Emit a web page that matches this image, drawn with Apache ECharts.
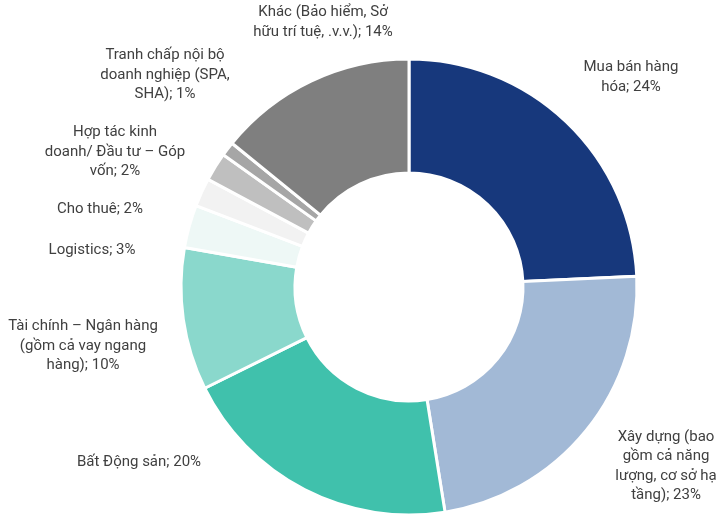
<!DOCTYPE html>
<html>
<head>
<meta charset="utf-8">
<script src="https://cdn.jsdelivr.net/npm/echarts@6/dist/echarts.min.js"></script>
<style>
  html, body { margin: 0; padding: 0; background: #fff; }
  #chart { width: 716px; height: 515px; }
</style>
</head>
<body>
<div id="chart"></div>
<script>
// dữ liệu
var categories = ["Mua bán hàng hóa", "Xây dựng (bao gồm cả năng lượng, cơ sở hạ tầng)", "Bất Động sản",
  "Tài chính – Ngân hàng (gồm cả vay ngang hàng)", "Logistics", "Cho thuê",
  "Hợp tác kinh doanh/ Đầu tư – Góp vốn", "Tranh chấp nội bộ doanh nghiệp (SPA, SHA)",
  "Khác (Bảo hiểm, Sở hữu trí tuệ, .v.v.)"];
var values = [24, 23, 20, 10, 3, 2, 2, 1, 14];
// nhãn hiển thị (xuống dòng như bản gốc)
var labelLines = [
  "Mua bán hàng\nhóa",
  "Xây dựng (bao\ngồm cả năng\nlượng, cơ sở hạ\ntầng)",
  "Bất Động sản",
  "Tài chính – Ngân hàng\n(gồm cả vay ngang\nhàng)",
  "Logistics",
  "Cho thuê",
  "Hợp tác kinh\ndoanh/ Đầu tư – Góp\nvốn",
  "Tranh chấp nội bộ\ndoanh nghiệp (SPA,\nSHA)",
  "Khác (Bảo hiểm, Sở\nhữu trí tuệ, .v.v.)"
];
var colors = ["#17387c", "#a2b9d6", "#40c1ac", "#8ad8cc", "#eef8f6", "#f2f2f2", "#bfbfbf", "#a6a6a6", "#7f7f7f"];

// vị trí tâm nhãn (px)
var labelPos = [[631, 77], [666, 466], [139, 462], [83, 346], [92, 250], [100, 209], [115, 152], [165, 75], [323, 22]];

var myChart = echarts.init(document.getElementById("chart"));
var option = {
  animation: false,
  textStyle: { fontFamily: "Roboto" },
  series: [{
    type: "pie",
    center: [409, 287],
    radius: [114, 228],
    startAngle: 90,
    clockwise: true,
    itemStyle: { borderColor: "#fff", borderWidth: 3 },
    label: {
      show: true,
      position: "outside",
      alignTo: "none",
      overflow: "none",
      bleedMargin: 0,
      color: "#404040",
      fontSize: 15,
      lineHeight: 19.5,
      align: "center",
      formatter: function (p) {
        return labelLines[p.dataIndex] + "; " + p.value + "%";
      }
    },
    labelLine: { show: false },
    labelLayout: function (p) {
      var pos = labelPos[p.dataIndex];
      return { x: pos[0], y: pos[1], align: "center", verticalAlign: "middle", hideOverlap: false };
    },
    data: categories.map(function (c, i) {
      return { name: c, value: values[i], itemStyle: { color: colors[i] } };
    })
  }]
};
myChart.setOption(option);
</script>
</body>
</html>
